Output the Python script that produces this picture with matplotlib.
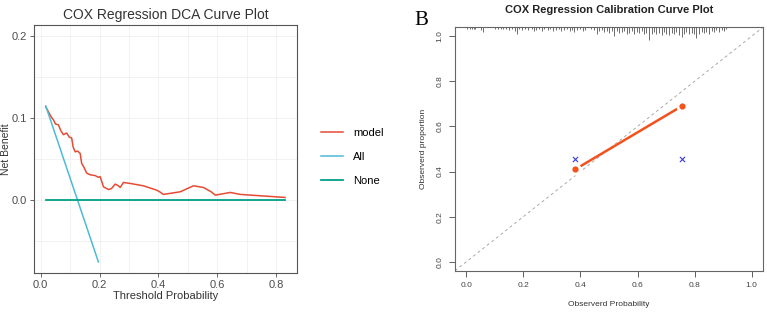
import matplotlib
import matplotlib.pyplot as plt
import numpy as np

matplotlib.use('Agg')
plt.rcParams['font.family'] = ['Liberation Sans', 'DejaVu Sans']

# --- DCA curve (left) ---
model_x = [0.017, 0.026, 0.035, 0.043, 0.050, 0.060, 0.068, 0.077, 0.088, 0.097, 0.105,
           0.110, 0.117, 0.125, 0.134, 0.139, 0.147, 0.156, 0.168, 0.185, 0.195, 0.202,
           0.213, 0.230, 0.240, 0.253, 0.262, 0.270, 0.281, 0.304, 0.349, 0.394, 0.405,
           0.417, 0.474, 0.519, 0.553, 0.580, 0.593, 0.644, 0.678, 0.830]
model_y = [0.114, 0.108, 0.102, 0.098, 0.093, 0.092, 0.085, 0.080, 0.082, 0.077, 0.076,
           0.065, 0.059, 0.060, 0.057, 0.045, 0.040, 0.033, 0.031, 0.030, 0.028, 0.0286,
           0.0163, 0.013, 0.014, 0.0196, 0.018, 0.0155, 0.0216, 0.0204, 0.0175, 0.0122, 0.010,
           0.007, 0.0102, 0.0175, 0.0155, 0.010, 0.0061, 0.0094, 0.007, 0.0033]
all_x = [0.017, 0.196]
all_y = [0.115, -0.0755]
none_x = [0.017, 0.830]
none_y = [0.0, 0.0]

# --- calibration curve (right) ---
pred = [0.382, 0.755]
obs = [0.41, 0.69]
obs_x = [0.382, 0.755]
obs_xy = [0.457, 0.457]
rug_x = [0.003, 0.013, 0.020, 0.026, 0.031, 0.052, 0.059, 0.101, 0.110, 0.120, 0.129,
         0.140, 0.148, 0.159, 0.170, 0.178, 0.186, 0.197, 0.206, 0.218, 0.229, 0.236,
         0.246, 0.254, 0.264, 0.274, 0.285, 0.295, 0.304, 0.315, 0.324, 0.332, 0.344,
         0.353, 0.362, 0.369, 0.379, 0.388, 0.397, 0.408, 0.416, 0.437, 0.449, 0.457,
         0.466, 0.476, 0.484, 0.492, 0.501, 0.510, 0.519, 0.527, 0.536, 0.545, 0.554,
         0.562, 0.571, 0.580, 0.589, 0.597, 0.606, 0.615, 0.623, 0.631, 0.641, 0.650,
         0.658, 0.666, 0.676, 0.685, 0.693, 0.701, 0.711, 0.720, 0.728, 0.736, 0.746,
         0.755, 0.763, 0.771, 0.781, 0.790, 0.798, 0.806, 0.816, 0.825, 0.833, 0.841,
         0.851, 0.860, 0.868, 0.876, 0.886, 0.895, 0.904, 0.911]
rug_len = [0.010, 0.008, 0.010, 0.008, 0.010, 0.012, 0.020, 0.008, 0.010, 0.008, 0.010,
           0.010, 0.012, 0.010, 0.015, 0.030, 0.010, 0.012, 0.010, 0.012, 0.010, 0.015,
           0.012, 0.010, 0.015, 0.010, 0.012, 0.010, 0.015, 0.012, 0.010, 0.015, 0.012,
           0.010, 0.015, 0.012, 0.020, 0.012, 0.010, 0.015, 0.012, 0.010, 0.012, 0.030,
           0.015, 0.012, 0.020, 0.015, 0.025, 0.015, 0.040, 0.015, 0.025, 0.020, 0.015,
           0.030, 0.025, 0.015, 0.030, 0.020, 0.025, 0.015, 0.030, 0.025, 0.055, 0.030,
           0.020, 0.030, 0.025, 0.035, 0.020, 0.030, 0.035, 0.025, 0.030, 0.020, 0.035,
           0.045, 0.030, 0.020, 0.030, 0.025, 0.030, 0.050, 0.030, 0.020, 0.025, 0.020,
           0.030, 0.015, 0.020, 0.012, 0.020, 0.012, 0.015, 0.010]

fig = plt.figure(figsize=(7.67, 3.12), dpi=100)

# left panel, ggplot-ish look
ax1 = fig.add_axes([0.0443, 0.125, 0.343, 0.795])
for v in np.arange(0, 0.9, 0.1):
    ax1.axvline(v, color='#F0F0F0', lw=0.6, zorder=0)
for v in np.arange(-0.05, 0.25, 0.05):
    ax1.axhline(v, color='#F0F0F0', lw=0.6, zorder=0)
ax1.plot(model_x, model_y, color='#E64B35', lw=1.1, label='model')
ax1.plot(all_x, all_y, color='#4DBBD5', lw=1.1, label='All')
ax1.plot(none_x, none_y, color='#00A087', lw=1.3, label='None')
ax1.set_xlim(-0.023, 0.871)
ax1.set_ylim(-0.089, 0.214)
ax1.set_xticks([0.0, 0.2, 0.4, 0.6, 0.8])
ax1.set_yticks([0.0, 0.1, 0.2])
ax1.set_xticklabels(['0.0', '0.2', '0.4', '0.6', '0.8'])
ax1.set_yticklabels(['0.0', '0.1', '0.2'])
ax1.tick_params(labelsize=8, colors='#4D4D4D', length=3, width=0.6, pad=2)
for s in ax1.spines.values():
    s.set_color('#555555')
    s.set_linewidth(0.8)
ax1.set_xlabel('Threshold Probability', fontsize=8, color='#333333', labelpad=1)
ax1.set_ylabel('Net Benefit', fontsize=7.5, color='#333333')
ax1.yaxis.set_label_coords(-0.088, 0.5)
ax1.set_title('COX Regression DCA Curve Plot', fontsize=10, color='#333333', pad=4)
ax1.legend(loc='center left', bbox_to_anchor=(0.405, 0.497), bbox_transform=fig.transFigure,
           frameon=False, fontsize=8, handlelength=2.0, handletextpad=0.9, labelspacing=1.25)

# right panel, base R look
ax2 = fig.add_axes([0.593, 0.132, 0.402, 0.781])
ax2.plot([-0.04, 1.04], [-0.04, 1.04], color='#AAAAAA', lw=0.7, ls=(0, (3, 3)))
ax2.plot(pred, obs, color='#F4511E', lw=1.8, solid_capstyle='butt', zorder=2)
ax2.scatter(pred, obs, s=60, color='white', zorder=3)
ax2.scatter(pred, obs, s=12, color='#F4511E', zorder=4)
ax2.scatter(obs_x, obs_xy, marker='x', s=14, color='#3A3AD8', lw=0.8, zorder=4)
ax2.vlines(rug_x, [1.04 - l for l in rug_len], 1.04, color='#555555', lw=0.6)
ax2.set_xlim(-0.04, 1.04)
ax2.set_ylim(-0.04, 1.04)
ticks = [0.0, 0.2, 0.4, 0.6, 0.8, 1.0]
ax2.set_xticks(ticks)
ax2.set_yticks(ticks)
ax2.set_xticklabels(['%.1f' % t for t in ticks])
ax2.set_yticklabels(['%.1f' % t for t in ticks], rotation=90, va='center')
ax2.tick_params(labelsize=6, colors='#444444', length=4, width=0.6, pad=4)
for s in ax2.spines.values():
    s.set_color('#666666')
    s.set_linewidth(0.8)
ax2.set_xlabel('Observerd Probability', fontsize=6, color='#333333', labelpad=9)
ax2.set_ylabel('Observerd proportion', fontsize=6, color='#333333', labelpad=7)
ax2.set_title('COX Regression Calibration Curve Plot', fontsize=8, fontweight='bold',
              color='#222222', pad=10)
fig.text(0.54, 0.935, 'B', fontsize=15, family='Liberation Serif', va='center', ha='left')

fig.savefig('out.png', dpi=100)
